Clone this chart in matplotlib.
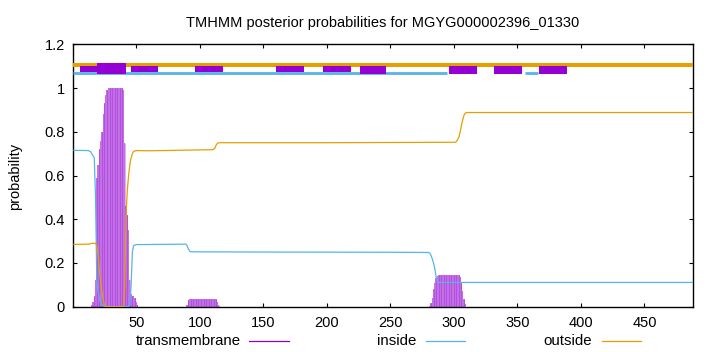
import matplotlib
matplotlib.use('Agg')
import matplotlib.pyplot as plt
from matplotlib.lines import Line2D

plt.rcParams['font.family'] = ['Liberation Sans', 'DejaVu Sans']
plt.rcParams['font.size'] = 10.5

seq_len = 488

# posterior probability, transmembrane (per residue, only non-zero stretches)
tm_pos = [15, 16, 17, 18, 19, 20, 21, 22, 23, 24, 25, 26, 27,
          28, 29, 30, 31, 32, 33, 34, 35, 36, 37, 38, 39, 40,
          41, 42, 43, 44, 45, 46, 47, 48, 49, 50, 51,
          90, 91, 92, 93, 94, 95, 96, 97, 98, 99, 100, 101, 102, 103,
          104, 105, 106, 107, 108, 109, 110, 111, 112, 113, 114, 115,
          281, 282, 283, 284, 285, 286, 287, 288, 289, 290, 291, 292,
          293, 294, 295, 296, 297, 298, 299, 300, 301, 302, 303, 304,
          305, 306, 307, 308, 309]
tm_prob = [0.01, 0.02, 0.05, 0.12, 0.59, 0.65, 0.72, 0.76, 0.80, 0.88, 0.93, 0.97, 0.99,
           1.0, 1.0, 1.0, 1.0, 1.0, 1.0, 1.0, 1.0, 1.0, 1.0, 1.0, 1.0, 0.99,
           0.75, 0.46, 0.42, 0.35, 0.12, 0.06, 0.05, 0.05, 0.04, 0.02, 0.01,
           0.01, 0.03, 0.035, 0.037, 0.037, 0.037, 0.037, 0.037, 0.037, 0.037, 0.037, 0.037, 0.037, 0.037,
           0.037, 0.037, 0.037, 0.037, 0.037, 0.037, 0.037, 0.037, 0.037, 0.033, 0.02, 0.008,
           0.005, 0.015, 0.04, 0.08, 0.11, 0.13, 0.14, 0.146, 0.146, 0.146, 0.146, 0.146,
           0.146, 0.146, 0.146, 0.146, 0.146, 0.146, 0.146, 0.146, 0.146, 0.146, 0.146, 0.143,
           0.135, 0.11, 0.07, 0.035, 0.012]

# inside probability (read at breakpoints)
in_pos = [1, 12, 14, 15, 17, 18, 19, 20, 21, 22, 24, 25, 44, 45, 46, 47, 48, 50,
          88, 89, 90, 91, 92, 93, 150, 250, 280, 281, 282, 283, 284, 285, 286, 287, 288, 300, 488]
in_prob = [0.715, 0.714, 0.71, 0.70, 0.68, 0.50, 0.12, 0.07, 0.04, 0.02, 0.005, 0.0, 0.0, 0.01, 0.1, 0.25, 0.28, 0.284,
           0.286, 0.286, 0.28, 0.265, 0.255, 0.251, 0.25, 0.249, 0.248, 0.245, 0.235, 0.22, 0.2, 0.175, 0.138, 0.115, 0.111, 0.111, 0.111]

# outside probability
out_pos = [1, 13, 15, 17, 18, 19, 20, 21, 22, 23, 24, 25, 26, 40, 41, 42, 43, 44, 45, 46, 47, 48, 50,
           60, 100, 110, 111, 112, 113, 114, 115, 200, 301, 302, 303, 304, 305, 306, 307, 308, 309, 310, 488]
out_prob = [0.285, 0.286, 0.29, 0.29, 0.29, 0.28, 0.24, 0.17, 0.12, 0.07, 0.03, 0.01, 0.0, 0.0, 0.1, 0.42, 0.53, 0.6, 0.65, 0.68, 0.70, 0.71, 0.714,
            0.713, 0.717, 0.718, 0.72, 0.726, 0.74, 0.748, 0.75, 0.75, 0.752, 0.755, 0.765, 0.775, 0.80, 0.83, 0.855, 0.875, 0.885, 0.888, 0.888]

# predicted topology strip at the top
box_start = [6, 46, 96, 160, 197, 226, 296, 332, 367]
box_end = [19, 67, 118, 182, 219, 247, 318, 354, 389]
box_low = [1.074, 1.074, 1.074, 1.074, 1.074, 1.064, 1.064, 1.064, 1.064]
big_box = (19, 42)
in_seg_start = [0, 356]
in_seg_end = [295, 366]

purple = '#9400d3'
blue = '#56b4e9'
orange = '#e69f00'

fig = plt.figure(figsize=(7.2, 3.52), dpi=100)
ax = fig.add_axes([73.3 / 720, 1 - 306.7 / 352, (692.7 - 73.3) / 720, (306.7 - 44.3) / 352])

# impulses: light fill with darker stripes like gnuplot's thick impulses
ax.bar(tm_pos, tm_prob, width=1.0, color='#c272e6', linewidth=0, zorder=2)
ax.vlines(tm_pos[::2], 0, tm_prob[::2], color=purple, alpha=0.3, linewidth=0.8, zorder=2)
ax.plot(in_pos, in_prob, color=blue, linewidth=0.9, zorder=3)
ax.plot(out_pos, out_prob, color=orange, linewidth=0.9, zorder=3)

ax.plot([0, seq_len], [1.1076, 1.1076], color=orange, linewidth=2.9, solid_capstyle='butt', zorder=4)
for s, e in zip(in_seg_start, in_seg_end):
    ax.plot([s, e], [1.069, 1.069], color=blue, linewidth=2.0, solid_capstyle='butt', zorder=5)
for s, e, lo in zip(box_start, box_end, box_low):
    ax.fill_between([s, e], lo, 1.0985, color=purple, linewidth=0, zorder=4 if lo > 1.07 else 6)
ax.fill_between(list(big_box), 1.064, 1.1125, color=purple, linewidth=0, zorder=6)

ax.set_xlim(0.5, seq_len)
ax.set_ylim(0, 1.2)
ax.set_xticks([50, 100, 150, 200, 250, 300, 350, 400, 450])
ax.set_yticks([0, 0.2, 0.4, 0.6, 0.8, 1.0, 1.2])
ax.set_yticklabels(['0', '0.2', '0.4', '0.6', '0.8', '1', '1.2'])
ax.tick_params(direction='in', length=3, width=0.8, top=True, right=True, labelsize=10.5)
ax.tick_params(axis='x', pad=7)
ax.tick_params(axis='y', pad=6)
for sp in ax.spines.values():
    sp.set_linewidth(1.0)

fig.text(382.5 / 720, 1 - 22.7 / 352, 'TMHMM posterior probabilities for MGYG000002396_01330',
         ha='center', va='center', fontsize=10.5)
fig.text(15 / 720, 1 - 176 / 352, 'probability', rotation=90, ha='center', va='center', fontsize=10.5)

# key below the plot
key_y = 1 - 341 / 352
keys = [('transmembrane', purple, 241, 249, 289),
        ('inside', blue, 416, 426, 465),
        ('outside', orange, 592, 602, 641)]
for label, col, tx, x0, x1 in keys:
    fig.text(tx / 720, key_y, label, ha='right', va='center', fontsize=10.8)
    fig.add_artist(Line2D([x0 / 720, x1 / 720], [key_y, key_y], color=col, linewidth=0.9))

fig.savefig('out.png', dpi=100)
